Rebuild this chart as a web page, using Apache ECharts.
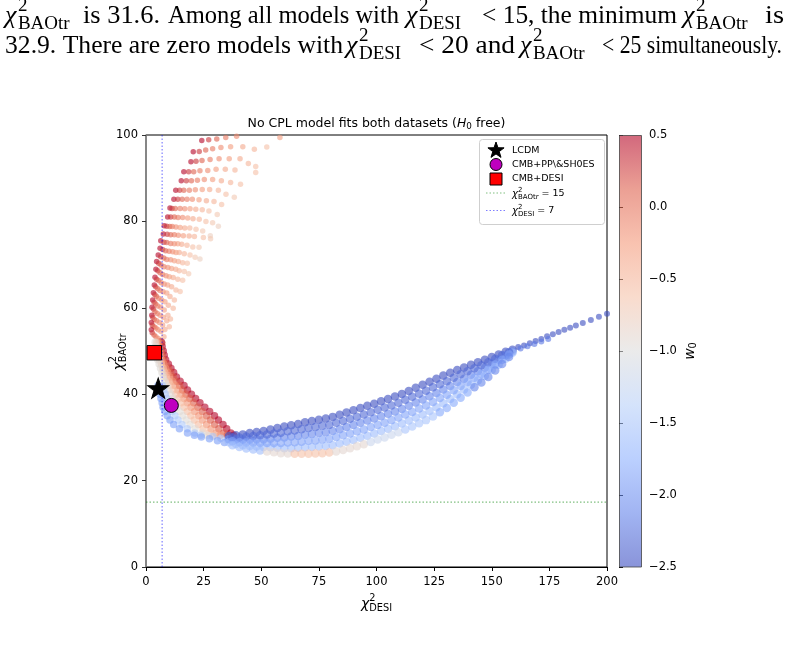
<!DOCTYPE html>
<html>
<head>
<meta charset="utf-8">
<script src="https://cdn.jsdelivr.net/npm/echarts@6.0.0/dist/echarts.min.js"></script>
<style>
  html, body { margin: 0; padding: 0; background: #fff; }
  #chart { width: 788px; height: 648px; }
</style>
</head>
<body>
<div id="chart"></div>
<script>
// ---- data ----
// upper branch: rows of models, dark red at the left end getting lighter to the right
const upperRows = [
  [[24.2,98.7],[27.2,98.9],[30.7,99.1],[34.6,99.4],[39.3,99.7],[58.1,99.4]],
  [[20.5,96.1],[23.1,96.2],[25.9,96.5],[28.9,96.8],[32.5,97.1],[36.7,97.3],[42.0,97.3],[47.0,96.7],[52.4,97.2]],
  [[19.5,93.8],[21.7,93.9],[24.3,94.1],[27.8,94.3],[31.7,94.5],[36.1,94.5],[40.8,94.5],[44.4,93.4],[47.6,92.7]],
  [[16.4,91.5],[18.5,91.5],[20.7,91.5],[23.4,91.7],[26.8,91.8],[30.4,92.1],[34.4,92.1],[38.6,91.9],[47.6,91.3]],
  [[15.3,89.4],[17.5,89.4],[19.7,89.4],[22.3,89.5],[25.3,89.7],[28.9,89.7],[32.7,89.4],[36.7,89.0],[41.0,88.6]],
  [[12.9,87.2],[14.6,87.2],[16.4,87.2],[18.8,87.2],[21.4,87.3],[24.4,87.4],[27.6,87.4],[31.4,87.2],[34.7,86.3],[38.3,85.6]],
  [[12.1,85.1],[13.8,85.1],[15.7,85.1],[17.8,85.1],[20.1,85.1],[23.0,85.0],[26.2,84.8],[29.5,84.6],[32.8,83.9]],
  [[10.4,83.1],[11.3,83.0],[12.7,83.0],[14.8,83.0],[16.8,82.9],[19.1,82.9],[21.6,82.8],[24.4,82.7],[27.3,82.4],[30.9,81.6]],
  [[9.4,81.0],[10.7,81.0],[12.3,81.0],[13.9,80.9],[15.9,80.9],[18.1,80.8],[20.4,80.6],[23.1,80.5],[26.0,80.0],[28.9,79.7],[31.4,78.9]],
  [[7.9,79.0],[9.0,78.9],[10.3,78.8],[11.4,78.8],[13.0,78.7],[14.8,78.6],[16.8,78.5],[19.0,78.5],[21.7,78.2],[24.6,77.8],[27.9,76.7]],
  [[7.5,77.1],[9.2,77.0],[10.7,76.9],[12.3,76.9],[14.0,76.8],[16.2,76.7],[18.7,76.6],[21.0,76.5],[24.9,76.3],[28.0,76.0]],
  [[6.4,75.5],[7.8,75.2],[9.0,75.1],[10.7,74.9],[12.3,74.8],[13.8,74.8],[15.5,74.7],[17.8,74.5],[20.3,74.1],[23.0,74.0]],
  [[6.1,73.8],[7.2,73.5],[8.5,73.2],[10.0,73.1],[11.6,73.0],[13.0,72.8],[14.4,72.8],[16.6,72.5],[19.1,72.2],[21.3,71.7],[23.4,71.3]],
  [[5.3,72.2],[6.4,71.8],[7.7,71.5],[9.0,71.2],[10.7,71.1],[12.3,70.9],[14.0,70.7],[15.9,70.4],[17.9,70.3]],
  [[4.6,70.7],[5.5,70.3],[6.5,69.9],[7.8,69.5],[9.5,69.3],[11.1,69.1],[12.9,68.9],[14.4,68.6],[16.6,68.4],[18.5,67.9]],
  [[4.3,68.9],[5.1,68.6],[6.1,68.1],[7.2,67.7],[8.7,67.4],[10.1,67.2],[11.8,67.0],[13.8,66.6],[15.9,66.4]],
  [[3.9,67.1],[4.6,66.6],[5.5,66.3],[6.6,65.8],[7.9,65.5],[9.4,65.3],[11.1,64.9],[13.0,64.1],[14.8,63.8]],
  [[3.6,65.3],[4.2,64.9],[5.1,64.4],[6.1,64.0],[7.4,63.7],[9.0,63.4],[10.4,62.6],[12.3,61.8]],
  [[3.2,63.5],[3.8,63.1],[4.5,62.7],[5.5,62.2],[6.8,61.8],[8.2,61.4],[9.7,60.6],[11.8,59.9]],
  [[2.9,61.8],[3.5,61.3],[4.2,60.9],[5.1,60.4],[6.4,60.1],[7.9,59.5],[9.5,58.3],[10.6,57.4]],
  [[2.6,60.1],[3.2,59.7],[3.9,59.1],[4.9,58.7],[6.1,58.3],[7.5,57.8],[9.0,57.0],[10.1,55.6]],
  [[2.5,58.3],[2.9,57.8],[3.6,57.3],[4.6,57.0],[5.8,56.6],[7.2,56.0],[8.2,55.0]],
  [[2.3,56.6],[2.7,56.0],[3.5,55.6],[4.3,55.3],[5.3,54.9],[6.5,54.5],[7.8,53.3]],
  [[2.3,54.9],[2.7,54.2],[3.5,53.7],[4.3,53.3],[5.3,52.9],[6.4,52.5],[7.5,51.8]]
];
// w0 of the n-th model along an upper row
const upperW0 = [0.5, 0.3, 0.12, -0.03, -0.15, -0.27, -0.38, -0.48, -0.58, -0.68, -0.78];

// lower-left band, rows from the red upper edge to the blue lower edge
const leftBandRows = [
  [[6.7,52],[7.0,51],[7.5,50],[7.9,49],[8.5,48],[9.7,47],[10.8,46],[12.0,45],[13.2,44],[14.8,43],[16.5,42],[18.0,41],[19.7,40],[21.5,39],[23.4,38],[25.5,37],[27.6,36],[29.7,35],[31.4,34],[33.4,33],[35.0,32],[36.8,31],[38.0,30.5]],
  [[6.0,52],[6.3,51],[6.75,50],[7.1,49],[7.65,48],[8.7,47],[9.7,46],[10.7,45],[11.8,44],[13.15,43],[14.6,42],[15.9,41],[17.4,40],[19.0,39],[20.7,38],[22.5,37],[24.4,36],[26.3,35],[27.9,34],[29.8,33],[31.6,32],[33.7,31],[35.2,30.5]],
  [[5.3,52],[5.6,51],[6.0,50],[6.3,49],[6.8,48],[7.7,47],[8.5,46],[9.4,45],[10.3,44],[11.5,43],[12.7,42],[13.9,41],[15.2,40],[16.5,39],[17.9,38],[19.5,37],[21.1,36],[22.9,35],[24.4,34],[26.3,33],[28.2,32],[30.5,31],[32.3,30.5]],
  [[4.65,52],[4.9,51],[5.25,50],[5.55,49],[5.95,48],[6.7,47],[7.4,46],[8.15,45],[8.9,44],[9.85,43],[10.85,42],[11.8,41],[12.9,40],[14.0,39],[15.2,38],[16.45,37],[17.9,36],[19.45,35],[20.9,34],[22.7,33],[24.75,32],[27.4,31],[29.5,30.5]],
  [[3.97,52],[4.2,51],[4.5,50],[4.8,49],[5.1,48],[5.7,47],[6.3,46],[6.9,45],[7.5,44],[8.2,43],[9.0,42],[9.7,41],[10.6,40],[11.5,39],[12.5,38],[13.4,37],[14.7,36],[16.0,35],[17.4,34],[19.1,33],[21.3,32],[24.3,31],[26.7,30.5]],
  [[7.1,42],[7.7,41],[8.4,40],[9.0,39],[9.7,38],[10.4,37],[11.4,36],[12.6,35],[13.9,34],[15.6,33],[17.9,32],[21.1,31],[23.8,30.5],[29.0,30.2],[32.5,29.8],[35.5,29.5]],
  [[5.2,42],[5.6,41],[6.1,40],[6.5,39],[7.0,38],[7.4,37],[8.2,36],[9.2,35],[10.4,34],[12.0,33],[14.5,32],[18.0,31],[21.0,30.5],[24.0,30.1],[27.5,29.7],[31.0,29.2],[34.0,28.8]]
];
const leftBandW0 = [0.5, 0.15, -0.2, -0.55, -0.95, -1.45, -1.9];

// long lower band: three rows on bandXa, three rows on bandXb (top edge to bottom edge)
const bandXa = [36,39,42,45,48,51,54,57,60,63,66,69,72,75,78,81,84,87,90,93,96,99,102,105,108,111,114,117,120,123,126,129,132,135,138,141,144,147,150,153,156,159];
const bandXb = [37.5,40.5,43.5,46.5,49.5,52.5,55.5,58.5,61.5,64.5,67.5,70.5,73.5,76.5,79.5,82.5,85.5,88.5,91.5,94.5,97.5,100.5,103.5,106.5,109.5,112.5,115.5,118.5,121.5,124.5,127.5,130.5,133.5,136.5,139.5,142.5,145.5,148.5,151.5,154.5,157.5];
const bandRowsA = [
  [30.3,30.5,30.7,31.0,31.25,31.5,31.8,32.15,32.5,32.8,33.1,33.5,33.8,34.1,34.4,34.75,35.25,35.75,36.3,36.8,37.3,37.8,38.35,38.9,39.45,40.05,40.75,41.5,42.2,42.9,43.6,44.3,44.95,45.6,46.2,46.8,47.4,48.0,48.6,49.2,49.8,50.3],
  [29.6,29.5,29.5,29.5,29.6,29.6,29.7,29.9,30.0,30.2,30.3,30.6,30.8,31.0,31.2,31.5,31.9,32.4,32.9,33.4,33.9,34.4,34.9,35.5,36.0,36.6,37.3,38.1,38.8,39.5,40.3,41.1,41.9,42.8,43.6,44.5,45.3,46.1,47.1,48.0,49.0,49.9],
  [28.9,28.5,28.2,28.0,27.9,27.8,27.7,27.6,27.5,27.5,27.6,27.7,27.8,27.9,28.0,28.2,28.6,29.0,29.4,29.9,30.4,30.9,31.5,32.0,32.6,33.2,33.9,34.6,35.3,36.1,37.0,37.9,38.9,40.0,41.1,42.2,43.2,44.2,45.6,46.8,48.2,49.6]
];
const bandW0A = [-2.5, -2.1, -1.6];
const bandRowsB = [
  [30.0,30.0,30.2,30.3,30.5,30.7,30.9,31.1,31.4,31.6,31.9,32.2,32.4,32.7,32.9,33.4,33.8,34.3,34.8,35.3,35.8,36.4,36.9,37.4,38.0,38.7,39.4,40.1,40.8,41.6,42.3,43.0,43.8,44.6,45.3,46.0,46.7,47.4,48.2,49.0,49.7],
  [29.1,28.9,28.8,28.8,28.7,28.7,28.7,28.7,28.8,28.9,29.0,29.2,29.3,29.5,29.7,30.1,30.5,30.9,31.4,31.8,32.4,32.9,33.4,34.0,34.6,35.3,35.9,36.7,37.4,38.2,39.1,39.9,40.9,41.9,42.8,43.8,44.7,45.7,46.9,48.0,49.2],
  [28.2,27.8,27.45,27.2,26.95,26.75,26.55,26.35,26.25,26.2,26.2,26.2,26.25,26.35,26.5,26.75,27.1,27.5,27.95,28.4,28.95,29.5,30.0,30.6,31.2,31.85,32.5,33.25,34.0,34.85,35.8,36.8,38.0,39.2,40.4,41.6,42.7,44.0,45.5,47.0,48.6]
];
const bandW0B = [-2.3, -1.85];
const bandBottomW0 = [-1.6,-1.6,-1.6,-1.6,-1.6,-0.9,-0.9,-0.9,-0.9,-0.6,-0.6,-0.6,-0.6,-0.6,-0.6,-0.9,-0.9,-0.9,-0.9,-0.9,-1.2,-1.2,-1.2,-1.2,-1.2,-1.5,-1.5,-1.5,-1.5,-1.5,-1.8,-1.8,-1.8,-1.8,-1.8,-2.1,-2.1,-2.1,-2.1,-2.1,-2.1];

// thin tail at large chi2_DESI
const tailTop = [[161.5,50.9],[164,51.3],[166.5,51.8],[169,52.3],[171.5,52.8],[174,53.4],[176.5,53.9],[179,54.4],[181.5,54.9],[184,55.4],[186.5,55.9],[189.5,56.5],[193,57.2],[196.5,57.9],[200,58.6]];
const tailLow = [[162.5,50.6],[165.5,51.1],[168.5,51.6],[171.5,52.2],[174.5,52.8]];

// reference models and threshold lines
const lcdm = [5.3, 41.4];
const cmbPP = [11.0, 37.4];
const cmbDesi = [3.6, 49.6];
const desiCut = 7;
const baoCut = 15;

const xTicks = { min: 0, max: 200, step: 25 };
const yTicks = { min: 0, max: 100, step: 20 };
const cbarTicks = { min: -2.5, max: 0.5, step: 0.5 };

// paragraph above the figure: [left, right, text] or [left, right, 'chi', subscript]
const paraLines = [
  [[5, 78, 'chi', 'BAOtr'], [83, 160, 'is 31.6.'], [168, 399, 'Among all models with'], [406, 471, 'chi', 'DESI'], [482, 677, '< 15, the minimum'], [683, 758, 'chi', 'BAOtr'], [765, 784, 'is']],
  [[5, 343, '32.9. There are zero models with'], [346, 410, 'chi', 'DESI'], [419, 515, '< 20 and'], [520, 596, 'chi', 'BAOtr'], [602, 782, '< 25 simultaneously.']]
];

// coolwarm colormap
const coolwarm = ['#3b4cc0','#6282ea','#8db0fe','#b8d0f9','#dddddd','#f5c4ac','#f49a7b','#de604d','#b40426'];

// ---- build series data ----
const upperData = [];
upperRows.forEach(row => row.forEach((p, j) => upperData.push([p[0], p[1], upperW0[j]])));
const leftData = [];
leftBandRows.forEach((row, k) => row.forEach(p => leftData.push([p[0], p[1], leftBandW0[k]])));
const bandData = [];
bandRowsA.forEach((ys, k) => ys.forEach((y, j) => bandData.push([bandXa[j], y, bandW0A[k]])));
bandRowsB.forEach((ys, k) => ys.forEach((y, j) => bandData.push([bandXb[j], y, k === 2 ? bandBottomW0[j] : bandW0B[k]])));
const tailData = tailTop.map(p => [p[0], p[1], -2.5]).concat(tailLow.map(p => [p[0], p[1], -2.2]));

// ---- helpers ----
const measure = document.createElement('canvas').getContext('2d');

function hexToRgba(hex, a) {
  const n = parseInt(hex.slice(1), 16);
  return 'rgba(' + (n >> 16) + ',' + ((n >> 8) & 255) + ',' + (n & 255) + ',' + a + ')';
}

function starPoints(cx, cy, r) {
  const pts = [];
  for (let i = 0; i < 10; i++) {
    const rr = i % 2 === 0 ? r : r * 0.4;
    const a = -Math.PI / 2 + i * Math.PI / 5;
    pts.push([cx + rr * Math.cos(a), cy + rr * Math.sin(a)]);
  }
  return pts;
}
const starPath = 'path://' + starPoints(0, 0, 10).map((p, i) => (i ? 'L' : 'M') + p[0].toFixed(2) + ',' + p[1].toFixed(2)).join(' ') + ' Z';

// text runs with sub/superscripts; parts: {t, size, italic, dy, stack, gap}
function mathGroup(parts, x, y, opts) {
  opts = opts || {};
  const fam = opts.family || 'DejaVu Sans';
  const children = [];
  let cx = 0;
  parts.forEach(p => {
    const style = p.italic ? 'italic' : 'normal';
    measure.font = style + ' ' + p.size + 'px "' + fam + '"';
    const w = measure.measureText(p.t).width;
    children.push({
      type: 'text', x: cx, y: p.dy || 0, z: 30,
      style: { text: p.t, fontSize: p.size, fontFamily: fam, fontStyle: style, fill: '#000', align: 'left', verticalAlign: 'middle' }
    });
    if (!p.stack) cx += w + (p.gap || 0);
  });
  const shift = opts.align === 'center' ? -cx / 2 : 0;
  children.forEach(c => { c.x += shift; });
  const g = { type: 'group', x: x, y: y, rotation: opts.rotation || 0, z: 30, children: children };
  if (opts.width) g.scaleX = opts.width / cx;
  return g;
}

function chiParts(sub, size, subSize, gap) {
  const s = subSize || size * 0.7;
  return [
    { t: '\u03c7', size: size, italic: true, gap: gap || 0 },
    { t: '2', size: s, dy: -0.42 * size, stack: true },
    { t: sub, size: s, dy: 0.3 * size }
  ];
}

// ---- graphic elements ----
const graphics = [];

// paragraph above the figure (plain text runs are stretched to the justified width)
const paraY = [16.5, 46.5];
paraLines.forEach((line, li) => {
  line.forEach(seg => {
    if (seg[2] === 'chi') {
      graphics.push(mathGroup(chiParts(seg[3], 26, 19, 1.5), seg[0], paraY[li], { family: 'Liberation Serif' }));
    } else {
      graphics.push(mathGroup([{ t: seg[2], size: 25 }], seg[0], paraY[li], { family: 'Liberation Serif', width: seg[1] - seg[0] }));
    }
  });
});

// title
graphics.push(mathGroup([
  { t: 'No CPL model fits both datasets (', size: 12.5 },
  { t: 'H', size: 12.5, italic: true },
  { t: '0', size: 8.8, dy: 3 },
  { t: ' free)', size: 12.5 }
], 376.5, 124, { align: 'center' }));

// axis names
graphics.push(mathGroup(chiParts('DESI', 14), 376.5, 604, { align: 'center' }));
graphics.push(mathGroup(chiParts('BAOtr', 14), 119, 352, { align: 'center', rotation: Math.PI / 2 }));

// colorbar
const cbarStops = coolwarm.slice().reverse().map((c, i) => ({ offset: i / (coolwarm.length - 1), color: hexToRgba(c, 0.6) }));
graphics.push({
  type: 'rect', z: 5,
  shape: { x: 619.5, y: 135.5, width: 22, height: 431.5 },
  style: { fill: new echarts.graphic.LinearGradient(0, 0, 0, 1, cbarStops), stroke: '#444', lineWidth: 0.8 }
});
graphics.push(mathGroup([
  { t: 'w', size: 14, italic: true },
  { t: '0', size: 9.8, dy: 3.5 }
], 690, 351, { align: 'center', rotation: Math.PI / 2 }));

// legend
const lgX = 496, lgText = 512;
graphics.push({ type: 'rect', z: 25, shape: { x: 479.5, y: 139.5, width: 125, height: 85, r: 3 }, style: { fill: 'rgba(255,255,255,0.85)', stroke: '#cfcfcf', lineWidth: 1 } });
graphics.push({ type: 'polygon', z: 30, shape: { points: starPoints(lgX, 150.5, 8.5) }, style: { fill: '#000', stroke: '#000', lineWidth: 1 } });
graphics.push({ type: 'circle', z: 30, shape: { cx: lgX, cy: 164.5, r: 6 }, style: { fill: '#bf00bf', stroke: '#000', lineWidth: 1 } });
graphics.push({ type: 'rect', z: 30, shape: { x: lgX - 6, y: 173, width: 12, height: 12 }, style: { fill: '#ff0000', stroke: '#000', lineWidth: 1 } });
graphics.push({ type: 'line', z: 30, shape: { x1: 486, y1: 193, x2: 505, y2: 193 }, style: { stroke: 'rgba(0,128,0,0.5)', lineWidth: 1.2, lineDash: [1.5, 2] } });
graphics.push({ type: 'line', z: 30, shape: { x1: 486, y1: 210.5, x2: 505, y2: 210.5 }, style: { stroke: 'rgba(0,0,255,0.5)', lineWidth: 1.2, lineDash: [1.5, 2] } });
graphics.push(mathGroup([{ t: 'LCDM', size: 9.5 }], lgText, 150.5));
graphics.push(mathGroup([{ t: 'CMB+PP\\&SH0ES', size: 9.5 }], lgText, 164.5));
graphics.push(mathGroup([{ t: 'CMB+DESI', size: 9.5 }], lgText, 179));
graphics.push(mathGroup(chiParts('BAOtr', 10).concat([{ t: ' = ' + baoCut, size: 9.5, dy: -0.5 }]), lgText, 194));
graphics.push(mathGroup(chiParts('DESI', 10).concat([{ t: ' = ' + desiCut, size: 9.5, dy: -0.5 }]), lgText, 211.5));

// ---- chart ----
const axisFont = { fontFamily: 'DejaVu Sans', fontSize: 11.5, color: '#000' };
const scatterBase = { type: 'scatter', symbol: 'circle', silent: true, clip: true, itemStyle: { opacity: 0.6 }, z: 2 };

const chart = echarts.init(document.getElementById('chart'));
chart.setOption({
  animation: false,
  backgroundColor: '#ffffff',
  grid: [
    { left: 146, top: 135, width: 461, height: 432, show: true, borderColor: '#000', borderWidth: 1, backgroundColor: 'transparent', containLabel: false, outerBoundsMode: 'none' },
    { left: 619, top: 135, width: 22, height: 432, show: false, containLabel: false, outerBoundsMode: 'none' }
  ],
  xAxis: [
    {
      gridIndex: 0, type: 'value', min: xTicks.min, max: xTicks.max, interval: xTicks.step,
      axisLine: { show: true, onZero: false, lineStyle: { color: '#000', width: 1 } },
      axisTick: { show: true, length: 4, lineStyle: { color: '#000' } },
      axisLabel: Object.assign({ margin: 9 }, axisFont),
      splitLine: { show: false }
    },
    { gridIndex: 1, type: 'value', min: 0, max: 1, show: false }
  ],
  yAxis: [
    {
      gridIndex: 0, type: 'value', min: yTicks.min, max: yTicks.max, interval: yTicks.step,
      axisLine: { show: true, onZero: false, lineStyle: { color: '#888', width: 1.5 } },
      axisTick: { show: true, length: 4, lineStyle: { color: '#333' } },
      axisLabel: Object.assign({ margin: 8 }, axisFont),
      splitLine: { show: false }
    },
    {
      gridIndex: 1, type: 'value', position: 'right', min: cbarTicks.min, max: cbarTicks.max, interval: cbarTicks.step,
      axisLine: { show: false },
      axisTick: { show: true, length: 4, lineStyle: { color: '#000' } },
      axisLabel: Object.assign({ margin: 8, formatter: v => v.toFixed(1).replace('-', '\u2212') }, axisFont),
      splitLine: { show: false }
    }
  ],
  visualMap: {
    show: false, type: 'continuous', min: cbarTicks.min, max: cbarTicks.max, dimension: 2,
    seriesIndex: [0, 1, 2, 3], inRange: { color: coolwarm }
  },
  series: [
    Object.assign({}, scatterBase, { name: 'upper', symbolSize: 5.5, data: upperData }),
    Object.assign({}, scatterBase, { name: 'left', symbolSize: 7.5, data: leftData }),
    Object.assign({}, scatterBase, { name: 'band', symbolSize: 8.5, data: bandData }),
    Object.assign({}, scatterBase, { name: 'tail', symbolSize: 6, data: tailData }),
    {
      type: 'line', silent: true, symbol: 'none', z: 4,
      data: [[desiCut, yTicks.min], [desiCut, yTicks.max]],
      lineStyle: { color: 'rgba(0,0,255,0.5)', width: 1.2, type: [1.5, 2] }
    },
    {
      type: 'line', silent: true, symbol: 'none', z: 4,
      data: [[xTicks.min, baoCut], [xTicks.max, baoCut]],
      lineStyle: { color: 'rgba(0,128,0,0.5)', width: 1.2, type: [1.5, 2] }
    },
    {
      type: 'scatter', silent: true, z: 6, symbol: 'rect', symbolSize: 14.5,
      itemStyle: { color: '#ff0000', borderColor: '#000', borderWidth: 1, opacity: 1 }, data: [cmbDesi]
    },
    {
      type: 'scatter', silent: true, z: 6, symbol: starPath, symbolSize: [21, 20],
      itemStyle: { color: '#000', borderColor: '#000', borderWidth: 1, opacity: 1 }, data: [lcdm]
    },
    {
      type: 'scatter', silent: true, z: 6, symbol: 'circle', symbolSize: 14,
      itemStyle: { color: '#bf00bf', borderColor: '#000', borderWidth: 1, opacity: 1 }, data: [cmbPP]
    }
  ],
  graphic: graphics
});
</script>
</body>
</html>
